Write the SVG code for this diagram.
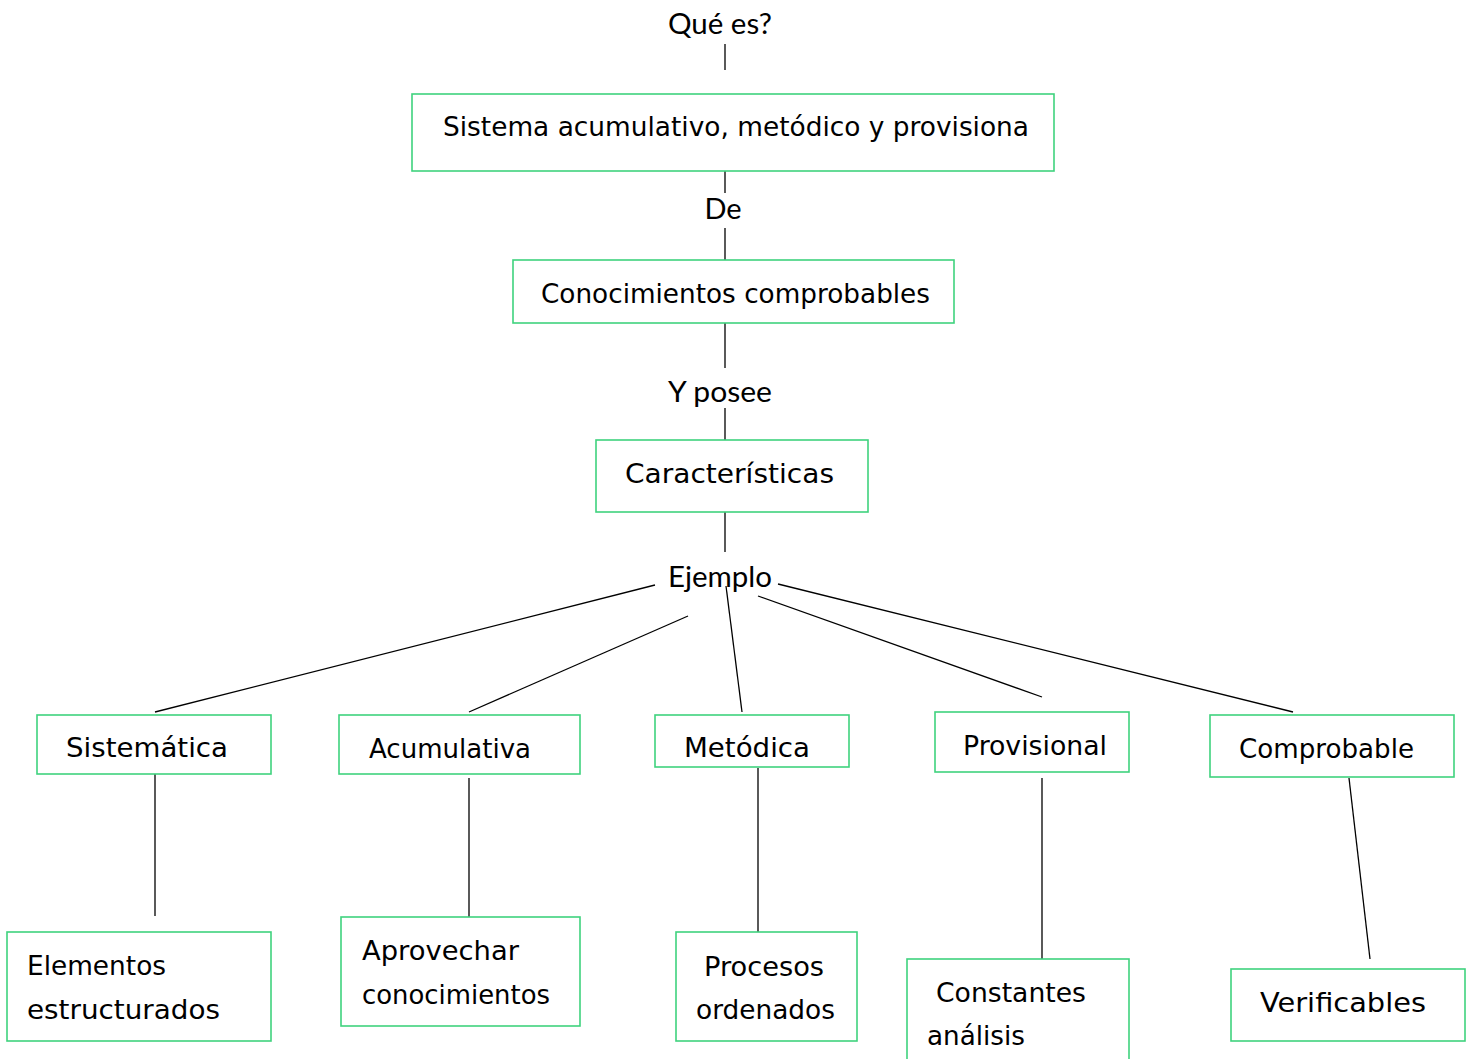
<svg xmlns="http://www.w3.org/2000/svg" width="1468" height="1059" viewBox="0 0 1468 1059">
<style>
.box{fill:#fff;stroke:#3fd37e;stroke-width:1.6}
.t{font-family:"DejaVu Sans","Liberation Sans",sans-serif;font-size:27px;fill:#000}
.l{font-family:Lato,"Liberation Sans",sans-serif;font-size:29px;fill:#000}
.c{stroke:#000;stroke-width:1.3;fill:none}
</style>
<rect width="1468" height="1059" fill="#fff"/>
<g id="connectors">
<line class="c" x1="725" y1="44" x2="725" y2="70"/>
<line class="c" x1="725" y1="171" x2="725" y2="193"/>
<line class="c" x1="725" y1="228" x2="725" y2="260"/>
<line class="c" x1="725" y1="323" x2="725" y2="368"/>
<line class="c" x1="725" y1="408" x2="725" y2="440"/>
<line class="c" x1="725" y1="512" x2="725" y2="552"/>
<line class="c" x1="655" y1="585" x2="155" y2="712"/>
<line class="c" x1="688" y1="616" x2="469" y2="712"/>
<line class="c" x1="726" y1="586" x2="742" y2="712"/>
<line class="c" x1="758" y1="596" x2="1042" y2="697"/>
<line class="c" x1="778" y1="584" x2="1293" y2="712"/>
<line class="c" x1="155" y1="774" x2="155" y2="916"/>
<line class="c" x1="469" y1="778" x2="469" y2="917"/>
<line class="c" x1="758" y1="768" x2="758" y2="932"/>
<line class="c" x1="1042" y1="778" x2="1042" y2="959"/>
<line class="c" x1="1349" y1="778" x2="1370" y2="959"/>
</g>
<g id="label-que"><text class="l" x="720" y="34" text-anchor="middle" textLength="104" lengthAdjust="spacingAndGlyphs">Qué es?</text></g>
<g id="label-de"><text class="l" x="723" y="219" text-anchor="middle">De</text></g>
<g id="label-posee"><text class="l" x="720" y="402" text-anchor="middle" textLength="104" lengthAdjust="spacingAndGlyphs">Y posee</text></g>
<g id="label-ejemplo"><text class="l" x="720" y="587" text-anchor="middle" textLength="104" lengthAdjust="spacingAndGlyphs">Ejemplo</text></g>
<g id="n-sistema"><rect class="box" x="412" y="94" width="642" height="77"/><text class="t" x="443" y="136" textLength="586" lengthAdjust="spacingAndGlyphs">Sistema acumulativo, metódico y provisiona</text></g>
<g id="n-conocimientos"><rect class="box" x="513" y="260" width="441" height="63"/><text class="t" x="541" y="303" textLength="389" lengthAdjust="spacingAndGlyphs">Conocimientos comprobables</text></g>
<g id="n-caracteristicas"><rect class="box" x="596" y="440" width="272" height="72"/><text class="t" x="625" y="483" textLength="209" lengthAdjust="spacingAndGlyphs">Características</text></g>
<g id="n-sistematica"><rect class="box" x="37" y="715" width="234" height="59"/><text class="t" x="66" y="757" textLength="162" lengthAdjust="spacingAndGlyphs">Sistemática</text></g>
<g id="n-acumulativa"><rect class="box" x="339" y="715" width="241" height="59"/><text class="t" x="369" y="758" textLength="162" lengthAdjust="spacingAndGlyphs">Acumulativa</text></g>
<g id="n-metodica"><rect class="box" x="655" y="715" width="194" height="52"/><text class="t" x="684" y="757" textLength="126" lengthAdjust="spacingAndGlyphs">Metódica</text></g>
<g id="n-provisional"><rect class="box" x="935" y="712" width="194" height="60"/><text class="t" x="963" y="755" textLength="144" lengthAdjust="spacingAndGlyphs">Provisional</text></g>
<g id="n-comprobable"><rect class="box" x="1210" y="715" width="244" height="62"/><text class="t" x="1239" y="758" textLength="175" lengthAdjust="spacingAndGlyphs">Comprobable</text></g>
<g id="n-elementos"><rect class="box" x="7" y="932" width="264" height="109"/><text class="t" x="27" y="975" textLength="139" lengthAdjust="spacingAndGlyphs">Elementos</text><text class="t" x="27" y="1019" textLength="193" lengthAdjust="spacingAndGlyphs">estructurados</text></g>
<g id="n-aprovechar"><rect class="box" x="341" y="917" width="239" height="109"/><text class="t" x="362" y="960" textLength="157" lengthAdjust="spacingAndGlyphs">Aprovechar</text><text class="t" x="362" y="1004" textLength="188" lengthAdjust="spacingAndGlyphs">conocimientos</text></g>
<g id="n-procesos"><rect class="box" x="676" y="932" width="181" height="109"/><text class="t" x="704" y="976" textLength="120" lengthAdjust="spacingAndGlyphs">Procesos</text><text class="t" x="696" y="1019" textLength="139" lengthAdjust="spacingAndGlyphs">ordenados</text></g>
<g id="n-constantes"><rect class="box" x="907" y="959" width="222" height="110"/><text class="t" x="936" y="1002" textLength="150" lengthAdjust="spacingAndGlyphs">Constantes</text><text class="t" x="927" y="1045" textLength="98" lengthAdjust="spacingAndGlyphs">análisis</text></g>
<g id="n-verificables"><rect class="box" x="1231" y="969" width="234" height="72"/><text class="t" x="1260" y="1012" textLength="166" lengthAdjust="spacingAndGlyphs">Verificables</text></g>
</svg>
